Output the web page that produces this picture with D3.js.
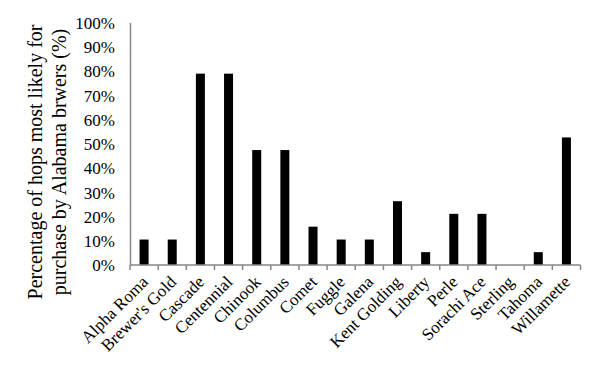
<!DOCTYPE html>
<html>
<head>
<meta charset="utf-8">
<script src="https://cdn.jsdelivr.net/npm/d3@7"></script>
<style>
  body { margin: 0; background: #fff; }
  svg text { font-family: "Liberation Serif"; }
</style>
</head>
<body>
<script>
// hop varieties and share of 19 brewers
var hops = ['Alpha Roma', "Brewer's Gold", 'Cascade', 'Centennial', 'Chinook', 'Columbus',
            'Comet', 'Fuggle', 'Galena', 'Kent Golding', 'Liberty', 'Perle',
            'Sorachi Ace', 'Sterling', 'Tahoma', 'Willamette'];
var percent = [10.5, 10.5, 78.9, 78.9, 47.4, 47.4, 15.8, 10.5, 10.5, 26.3, 5.3, 21.1,
               21.1, 0, 5.3, 52.6];
var yTicks = [0, 10, 20, 30, 40, 50, 60, 70, 80, 90, 100];

var width = 600, height = 375;
var plotLeft = 130, plotRight = 580.5, plotTop = 22.5, plotBottom = 265;
var serif = 'Liberation Serif';

var svg = d3.select('body').append('svg')
    .attr('width', width)
    .attr('height', height)
    .attr('font-family', serif);

var x = d3.scaleBand().domain(hops).range([plotLeft, plotRight]).padding(0);
var y = d3.scaleLinear().domain([0, 100]).range([plotBottom, plotTop]);

// bars
var barW = x.bandwidth() * 0.32;
svg.append('g').selectAll('rect').data(hops)
    .enter().append('rect')
    .attr('x', function(d) { return x(d) + (x.bandwidth() - barW) / 2; })
    .attr('y', function(d, i) { return y(percent[i]); })
    .attr('width', barW)
    .attr('height', function(d, i) { return plotBottom - y(percent[i]); })
    .attr('fill', '#000');

// y axis - bara en linje och etiketter
var yAxis = svg.append('g')
    .attr('transform', 'translate(' + plotLeft + ',0)')
    .call(d3.axisLeft(y).tickValues(yTicks).tickSize(0).tickPadding(15)
        .tickFormat(function(d) { return d + '%'; }));
yAxis.attr('font-family', serif).attr('font-size', 17);
yAxis.select('.domain').attr('stroke', '#868686').attr('stroke-width', 1.5);
yAxis.selectAll('text')
    .attr('font-family', serif)
    .attr('font-size', 17)
    .attr('fill', '#000')
    .attr('dy', '0.34em');

// x axis med tick-streck mellan staplarna
var tickPos = hops.map(function(d) { return x(d); }).concat([plotRight]);
var xAxisG = svg.append('g');
xAxisG.append('line')
    .attr('x1', plotLeft).attr('x2', plotRight)
    .attr('y1', plotBottom).attr('y2', plotBottom)
    .attr('stroke', '#868686').attr('stroke-width', 1.5);
xAxisG.selectAll('.tk').data(tickPos)
    .enter().append('line')
    .attr('class', 'tk')
    .attr('x1', function(d) { return d; }).attr('x2', function(d) { return d; })
    .attr('y1', plotBottom).attr('y2', plotBottom + 5)
    .attr('stroke', '#868686').attr('stroke-width', 1.5);

xAxisG.selectAll('.lbl').data(hops)
    .enter().append('text')
    .attr('class', 'lbl')
    .attr('text-anchor', 'end')
    .attr('font-family', serif)
    .attr('font-size', 17)
    .attr('transform', function(d) {
        return 'translate(' + (x(d) + x.bandwidth() / 2 + 5) + ',' + (plotBottom + 18) + ') rotate(-45)';
    })
    .text(function(d) { return d; });

// y-axelns titel, två rader
var title = svg.append('text')
    .attr('text-anchor', 'middle')
    .attr('font-family', serif)
    .attr('font-size', 20)
    .attr('transform', 'translate(42,162) rotate(-90)');
title.append('tspan').attr('x', 0).attr('dy', 0).text('Percentage of hops most likely for');
title.append('tspan').attr('x', 0).attr('dy', 24).text('purchase by Alabama brwers (%)');
</script>
</body>
</html>
